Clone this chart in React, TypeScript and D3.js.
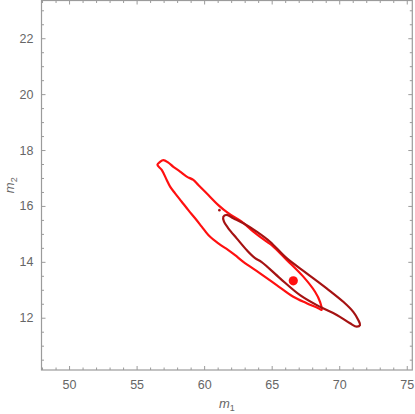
import React, { useEffect, useRef } from 'react';
import * as d3 from 'd3';

// outer (bright red) contour [m1, m2]
const redContour: [number, number][] = [
  [56.54, 17.47], [56.74, 17.58], [56.98, 17.64], [57.35, 17.55], [57.72, 17.4],
  [58.22, 17.23], [58.71, 17.05], [59.2, 16.93], [59.57, 16.75], [60.31, 16.39],
  [61.05, 16.03], [61.79, 15.74], [62.78, 15.44], [63.64, 15.08],
  [64.63, 14.72], [65.0, 14.6], [66.11, 14.07], [67.34, 13.47], [68.21, 12.93],
  [68.58, 12.57], [68.7, 12.28], [68.45, 12.34], [67.59, 12.52], [66.6, 12.75],
  [65.37, 13.17], [64.14, 13.59], [62.9, 14.0], [62.29, 14.24], [61.79, 14.42],
  [61.05, 14.66], [60.31, 14.96], [59.82, 15.26], [59.33, 15.56], [58.83, 15.85],
  [58.34, 16.15], [57.85, 16.45], [57.48, 16.69], [57.23, 16.93], [56.86, 17.29]
];

// inner (dark red) contour
const darkContour: [number, number][] = [
  [61.42, 15.61], [61.67, 15.68], [62.16, 15.56], [62.9, 15.38], [63.89, 15.08],
  [64.88, 14.72], [66.11, 14.13], [67.59, 13.59], [69.07, 13.05], [70.3, 12.57],
  [71.04, 12.21], [71.41, 11.92], [71.54, 11.74], [71.3, 11.68], [70.8, 11.8],
  [69.82, 12.1], [68.58, 12.39], [67.1, 12.81], [65.62, 13.41], [64.26, 13.99],
  [63.77, 14.13], [63.15, 14.42], [62.41, 14.84], [61.79, 15.2], [61.47, 15.44]
];

const darkSpeck: [number, number] = [61.13, 15.85];
const bestFit: [number, number] = [66.6, 13.32];

const xMajor = [50, 55, 60, 65, 70, 75];
const yMajor = [12, 14, 16, 18, 20, 22];

const App = () => {
  const ref = useRef<SVGSVGElement>(null);

  useEffect(() => {
    const svg = d3.select(ref.current);
    svg.selectAll('*').remove();

    const left = 41.5, right = 412.3, top = 0.5, bottom = 370;

    const x = d3.scaleLinear().domain([47.96, 75.41]).range([left, right]);
    const y = d3.scaleLinear().domain([10.13, 23.35]).range([bottom, top]);

    const frameColor = '#9b9b9b';
    const labelColor = '#666';
    const font = '"Liberation Sans", Arial, sans-serif';

    const xMinor = d3.range(48, 76, 1).filter(v => !xMajor.includes(v));
    const yMinor = d3.range(10.5, 23.5, 0.5).filter(v => !yMajor.includes(v));

    const styleAxis = (g: any) => {
      g.select('.domain').remove();
      g.selectAll('line').attr('stroke', frameColor);
      g.selectAll('text')
        .attr('fill', labelColor)
        .style('font-family', font)
        .style('font-size', '12.5px');
    };

    // bottom
    svg.append('g').attr('transform', `translate(0,${bottom})`)
      .call(d3.axisBottom(x).tickValues(xMajor).tickSize(-4).tickPadding(10).tickFormat(d3.format('d')))
      .call(styleAxis);
    svg.append('g').attr('transform', `translate(0,${bottom})`)
      .call(d3.axisBottom(x).tickValues(xMinor).tickSize(-2.5).tickFormat(() => ''))
      .call(styleAxis);
    // top
    svg.append('g').attr('transform', `translate(0,${top})`)
      .call(d3.axisTop(x).tickValues(xMajor).tickSize(-4).tickFormat(() => ''))
      .call(styleAxis);
    svg.append('g').attr('transform', `translate(0,${top})`)
      .call(d3.axisTop(x).tickValues(xMinor).tickSize(-2.5).tickFormat(() => ''))
      .call(styleAxis);
    // left
    svg.append('g').attr('transform', `translate(${left},0)`)
      .call(d3.axisLeft(y).tickValues(yMajor).tickSize(-4).tickPadding(8).tickFormat(d3.format('d')))
      .call(styleAxis);
    svg.append('g').attr('transform', `translate(${left},0)`)
      .call(d3.axisLeft(y).tickValues(yMinor).tickSize(-2.5).tickFormat(() => ''))
      .call(styleAxis);
    // right
    svg.append('g').attr('transform', `translate(${right},0)`)
      .call(d3.axisRight(y).tickValues(yMajor).tickSize(-4).tickFormat(() => ''))
      .call(styleAxis);
    svg.append('g').attr('transform', `translate(${right},0)`)
      .call(d3.axisRight(y).tickValues(yMinor).tickSize(-2.5).tickFormat(() => ''))
      .call(styleAxis);

    // frame
    svg.append('rect')
      .attr('x', left).attr('y', top)
      .attr('width', right - left).attr('height', bottom - top)
      .attr('fill', 'none')
      .attr('stroke', frameColor)
      .attr('stroke-width', 1.2);

    const path = d3.line<[number, number]>()
      .x(d => x(d[0]))
      .y(d => y(d[1]))
      .curve(d3.curveCatmullRomClosed.alpha(0.5));

    svg.append('path')
      .attr('d', path(redContour))
      .attr('fill', 'none')
      .attr('stroke', '#ff1010')
      .attr('stroke-width', 2.2)
      .attr('stroke-linejoin', 'round');

    svg.append('path')
      .attr('d', path(darkContour))
      .attr('fill', 'none')
      .attr('stroke', '#a51212')
      .attr('stroke-width', 2.2)
      .attr('stroke-linejoin', 'round');

    svg.append('circle')
      .attr('cx', x(darkSpeck[0])).attr('cy', y(darkSpeck[1]))
      .attr('r', 1.3)
      .attr('fill', '#a51212');

    svg.append('circle')
      .attr('cx', x(bestFit[0])).attr('cy', y(bestFit[1]))
      .attr('r', 4.6)
      .attr('fill', '#ff1010');

    // axis labels
    const xl = svg.append('text')
      .attr('x', (left + right) / 2)
      .attr('y', 408)
      .attr('text-anchor', 'middle')
      .attr('fill', labelColor)
      .style('font-family', font)
      .style('font-size', '13px');
    xl.append('tspan').style('font-style', 'italic').text('m');
    xl.append('tspan').attr('dy', 3).style('font-size', '9px').text('1');

    const yl = svg.append('text')
      .attr('transform', `translate(14,${(top + bottom) / 2}) rotate(-90)`)
      .attr('text-anchor', 'middle')
      .attr('fill', labelColor)
      .style('font-family', font)
      .style('font-size', '13px');
    yl.append('tspan').style('font-style', 'italic').text('m');
    yl.append('tspan').attr('dy', 3).style('font-size', '9px').text('2');
  }, []);

  return (
    <div style={{ position: 'absolute', left: 0, top: 0, background: 'white' }}>
      <svg ref={ref} width={415} height={414} />
    </div>
  );
};

export default App;
